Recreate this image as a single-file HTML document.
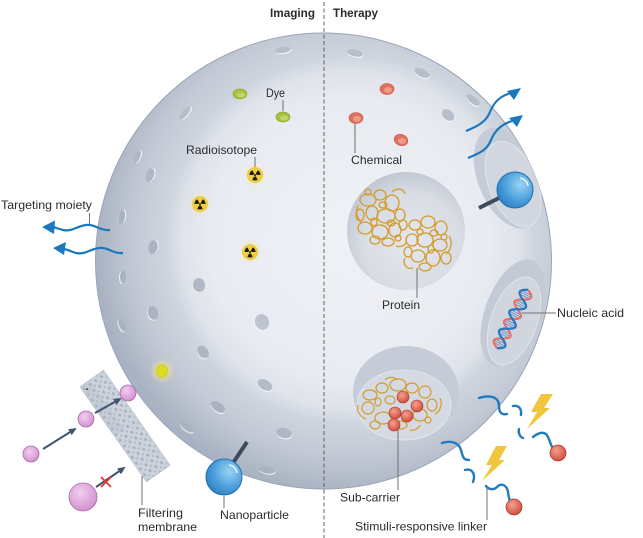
<!DOCTYPE html>
<html><head><meta charset="utf-8"><style>
html,body{margin:0;padding:0;background:#fff;}
svg{display:block;}
text{font-family:"Liberation Sans",sans-serif;font-size:12px;fill:#2b2b2b;}
</style></head><body>
<svg width="643" height="538" viewBox="0 0 643 538" xmlns="http://www.w3.org/2000/svg">
<defs>
  <radialGradient id="sg" gradientUnits="userSpaceOnUse" cx="350" cy="240" r="255">
    <stop offset="0" stop-color="#eff1f6"/>
    <stop offset="0.55" stop-color="#e8ebf1"/>
    <stop offset="0.66" stop-color="#dfe3ea"/>
    <stop offset="0.72" stop-color="#cfd5df"/>
    <stop offset="0.86" stop-color="#c1c8d4"/>
    <stop offset="1" stop-color="#a9b2c2"/>
  </radialGradient>
  <radialGradient id="pg" cx="0.55" cy="0.6" r="0.6">
    <stop offset="0" stop-color="#e4e7ec"/>
    <stop offset="0.7" stop-color="#d8dce3"/>
    <stop offset="1" stop-color="#c2c8d3"/>
  </radialGradient>
  <radialGradient id="bg" cx="0.65" cy="0.35" r="0.75">
    <stop offset="0" stop-color="#9ad3f5"/>
    <stop offset="0.6" stop-color="#4a9edb"/>
    <stop offset="1" stop-color="#2c7cc0"/>
  </radialGradient>
  <radialGradient id="rg" cx="0.4" cy="0.35" r="0.7">
    <stop offset="0" stop-color="#f5a090"/>
    <stop offset="1" stop-color="#cc4a3a"/>
  </radialGradient>
  <radialGradient id="kg" cx="0.4" cy="0.35" r="0.7">
    <stop offset="0" stop-color="#f3cdf0"/>
    <stop offset="1" stop-color="#cf8fcd"/>
  </radialGradient>
  <radialGradient id="yg">
    <stop offset="0" stop-color="#fbe27a" stop-opacity="0.95"/>
    <stop offset="1" stop-color="#fbe88a" stop-opacity="0"/>
  </radialGradient>
  <clipPath id="sc"><circle cx="323.5" cy="261" r="228"/></clipPath>
  <pattern id="dots" width="7" height="7" patternUnits="userSpaceOnUse">
    <ellipse cx="2" cy="2" rx="1.3" ry="1.6" fill="#a5afbf"/>
    <ellipse cx="5.5" cy="5.5" rx="1" ry="1.2" fill="#b0b9c8"/>
  </pattern>
  <marker id="ah" markerWidth="8" markerHeight="7" refX="6" refY="3.5" orient="auto" markerUnits="userSpaceOnUse">
    <path d="M0,0 L8,3.5 L0,7 z" fill="#3f5570"/>
  </marker>
  <g id="rad">
    <circle r="12" fill="url(#yg)"/>
    <circle r="7.5" fill="#f1cf3e" stroke="#e2b82a" stroke-width="0.6"/>
    <path d="M0.8,1.39 L2.75,4.76 A5.5,5.5 0 0 1 -2.75,4.76 L-0.8,1.39 A1.6,1.6 0 0 0 0.8,1.39Z M0.8,-1.39 L2.75,-4.76 A5.5,5.5 0 0 1 5.5,0 L1.6,0 A1.6,1.6 0 0 0 0.8,-1.39Z M-1.6,0 L-5.5,0 A5.5,5.5 0 0 1 -2.75,-4.76 L-0.8,-1.39 A1.6,1.6 0 0 0 -1.6,0Z" fill="#1d1d1d"/>
    <circle r="1" fill="#1d1d1d"/>
  </g>
</defs>

<!-- Sphere -->
<circle cx="323.5" cy="261" r="228" fill="url(#sg)" stroke="#9aa4b5" stroke-width="1"/>

<g clip-path="url(#sc)">
  <!-- top-right dent -->
  <ellipse cx="508" cy="178" rx="30" ry="53" transform="rotate(-22 508 178)" fill="#c5ccd7"/>
  <ellipse cx="513" cy="184" rx="24" ry="45" transform="rotate(-22 513 184)" fill="#d1d6df" stroke="#e6e9ef" stroke-width="0.8"/>
  <!-- nucleic acid dent -->
  <ellipse cx="513" cy="313" rx="28" ry="56" transform="rotate(20 513 313)" fill="#c3cad5"/>
  <ellipse cx="514" cy="321" rx="23" ry="46" transform="rotate(20 514 321)" fill="#d1d6de" stroke="#e6e9ef" stroke-width="0.8"/>
  <!-- sub-carrier dent -->
  <ellipse cx="406" cy="392" rx="53" ry="46" fill="#c6ccd7"/>
  <ellipse cx="404" cy="405" rx="47" ry="35" fill="#d5d9e1" stroke="#e6e9ef" stroke-width="0.8"/>
</g>

<!-- protein compartment -->
<circle cx="406" cy="231" r="59" fill="url(#pg)"/>

<!-- pores -->
<g>
<g transform="translate(283,50) rotate(-8)"><ellipse cx="0.6" cy="1" rx="8" ry="3" fill="#f6f7fa"/><ellipse rx="8" ry="3" fill="#b6bec9"/></g>
<g transform="translate(185,113) rotate(-50)"><ellipse cx="0.6" cy="1" rx="8" ry="3" fill="#f6f7fa"/><ellipse rx="8" ry="3" fill="#b6bec9"/></g>
<g transform="translate(137,157) rotate(-65)"><ellipse cx="0.6" cy="1" rx="7" ry="3" fill="#f6f7fa"/><ellipse rx="7" ry="3" fill="#b0b8c5"/></g>
<g transform="translate(150,175) rotate(-70)"><ellipse cx="0.6" cy="1" rx="7" ry="4" fill="#f6f7fa"/><ellipse rx="7" ry="4" fill="#b0b8c5"/></g>
<g transform="translate(122,217) rotate(-82)"><ellipse cx="0.6" cy="1" rx="7" ry="3" fill="#eef0f4"/><ellipse rx="7" ry="3" fill="#a9b2c0"/></g>
<g transform="translate(153,247) rotate(-80)"><ellipse cx="0.6" cy="1" rx="7" ry="4.5" fill="#eef0f4"/><ellipse rx="7" ry="4.5" fill="#aab3c1"/></g>
<g transform="translate(123,277) rotate(90)"><ellipse cx="0.6" cy="1" rx="6.5" ry="3" fill="#eef0f4"/><ellipse rx="6.5" ry="3" fill="#a9b2c0"/></g>
<g transform="translate(199,285) rotate(80)"><ellipse cx="0.6" cy="1" rx="7" ry="6" fill="#eef0f4"/><ellipse rx="7" ry="6" fill="#b0b8c5"/></g>
<g transform="translate(153,313) rotate(72)"><ellipse cx="0.6" cy="1" rx="7" ry="5" fill="#eef0f4"/><ellipse rx="7" ry="5" fill="#aab3c1"/></g>
<g transform="translate(122,325) rotate(68)"><ellipse cx="0.6" cy="1" rx="7" ry="3" fill="#eef0f4"/><ellipse rx="7" ry="3" fill="#a9b2c0"/></g>
<g transform="translate(262,322) rotate(70)"><ellipse cx="0.6" cy="1" rx="8" ry="7" fill="#f6f7fa"/><ellipse rx="8" ry="7" fill="#bdc4cf"/></g>
<g transform="translate(203,352) rotate(50)"><ellipse cx="0.6" cy="1" rx="7" ry="5" fill="#eef0f4"/><ellipse rx="7" ry="5" fill="#aeb6c3"/></g>
<g transform="translate(265,385) rotate(30)"><ellipse cx="0.6" cy="1" rx="8" ry="5" fill="#f3f5f8"/><ellipse rx="8" ry="5" fill="#b3bbc7"/></g>
<g transform="translate(218,407) rotate(35)"><ellipse cx="0.6" cy="1" rx="8" ry="4.5" fill="#eef0f4"/><ellipse rx="8" ry="4.5" fill="#aab3c1"/></g>
<g transform="translate(187,427) rotate(35)"><ellipse cx="0.6" cy="1" rx="8" ry="3.5" fill="#eef0f4"/><ellipse rx="8" ry="3.5" fill="#a9b2c0"/></g>
<g transform="translate(284,433) rotate(15)"><ellipse cx="0.6" cy="1" rx="8" ry="5" fill="#f3f5f8"/><ellipse rx="8" ry="5" fill="#b0b8c5"/></g>
<g transform="translate(267,470) rotate(10)"><ellipse cx="0.6" cy="1" rx="8" ry="3.5" fill="#eef0f4"/><ellipse rx="8" ry="3.5" fill="#a9b2c0"/></g>
<g transform="translate(355,53) rotate(12)"><ellipse cx="0.6" cy="1" rx="8" ry="3.5" fill="#f6f7fa"/><ellipse rx="8" ry="3.5" fill="#b6bec9"/></g>
<g transform="translate(422,73) rotate(25)"><ellipse cx="0.6" cy="1" rx="8" ry="4" fill="#f6f7fa"/><ellipse rx="8" ry="4" fill="#b6bec9"/></g>
<g transform="translate(473,100) rotate(40)"><ellipse cx="0.6" cy="1" rx="8" ry="3.5" fill="#f6f7fa"/><ellipse rx="8" ry="3.5" fill="#b6bec9"/></g>
<g transform="translate(448,115) rotate(40)"><ellipse cx="0.6" cy="1" rx="7" ry="5" fill="#f6f7fa"/><ellipse rx="7" ry="5" fill="#b6bec9"/></g>
</g>

<!-- dyes -->
<g>
<ellipse cx="240.5" cy="95" rx="7" ry="5" fill="#f2f4e0"/><ellipse cx="240" cy="94" rx="7" ry="5" fill="#a9c044" stroke="#8ea535" stroke-width="0.7"/><ellipse cx="241" cy="95" rx="4" ry="2.5" fill="#c2d468"/>
<ellipse cx="283.5" cy="118" rx="7" ry="5" fill="#f2f4e0"/><ellipse cx="283" cy="117" rx="7" ry="5" fill="#a9c044" stroke="#8ea535" stroke-width="0.7"/><ellipse cx="284" cy="118" rx="4" ry="2.5" fill="#c2d468"/>
</g>
<!-- chemicals -->
<g>
<ellipse cx="387" cy="89" rx="7" ry="5.5" fill="#e0705f" stroke="#c85848" stroke-width="0.6"/><ellipse cx="388" cy="90" rx="4" ry="3" fill="#ef9a88"/>
<ellipse cx="356" cy="118" rx="7" ry="5.5" fill="#e0705f" stroke="#c85848" stroke-width="0.6"/><ellipse cx="357" cy="119" rx="4" ry="3" fill="#ef9a88"/>
<ellipse cx="401" cy="140" rx="7" ry="5.5" transform="rotate(20 401 140)" fill="#e0705f" stroke="#c85848" stroke-width="0.6"/><ellipse cx="402" cy="141" rx="4" ry="3" fill="#ef9a88"/>
</g>

<!-- yellow dot -->
<circle cx="162" cy="371" r="13" fill="url(#yg)"/>
<ellipse cx="162" cy="371" rx="5.5" ry="6.5" fill="#dcdc1e" stroke="#c4c418" stroke-width="0.6"/>

<!-- radioisotopes -->
<use href="#rad" x="255" y="175"/>
<use href="#rad" x="200" y="204"/>
<use href="#rad" x="250" y="252"/>

<!-- protein tangles -->
<g fill="none" stroke="#d39c2c" stroke-width="1.3">
<ellipse cx="368" cy="200" rx="8" ry="6"/><ellipse cx="380" cy="195" rx="6" ry="5"/><ellipse cx="392" cy="203" rx="7" ry="8"/>
<ellipse cx="372" cy="213" rx="6" ry="7"/><ellipse cx="386" cy="216" rx="9" ry="7"/><ellipse cx="400" cy="215" rx="5" ry="6"/>
<ellipse cx="365" cy="228" rx="7" ry="6"/><ellipse cx="380" cy="232" rx="8" ry="7"/><ellipse cx="395" cy="230" rx="6" ry="7"/>
<ellipse cx="388" cy="242" rx="6" ry="4"/><ellipse cx="403" cy="225" rx="4" ry="5"/><ellipse cx="375" cy="240" rx="5" ry="4"/>
<ellipse cx="360" cy="215" rx="4" ry="6"/><ellipse cx="383" cy="205" rx="4" ry="3"/>
<ellipse cx="374" cy="222" rx="3" ry="4"/><ellipse cx="391" cy="223" rx="4" ry="3"/><ellipse cx="368" cy="192" rx="3" ry="3"/><ellipse cx="398" cy="238" rx="3" ry="3"/>
<path d="M392,192 c6,-5 12,-3 13,2 M358,205 c-3,6 -1,14 4,18 M396,246 c6,2 12,-2 10,-8"/>
<ellipse cx="415" cy="225" rx="6" ry="5"/><ellipse cx="428" cy="222" rx="7" ry="6"/><ellipse cx="441" cy="228" rx="6" ry="7"/>
<ellipse cx="412" cy="240" rx="6" ry="6"/><ellipse cx="425" cy="240" rx="8" ry="7"/><ellipse cx="440" cy="245" rx="7" ry="6"/>
<ellipse cx="418" cy="256" rx="7" ry="6"/><ellipse cx="433" cy="258" rx="7" ry="8"/><ellipse cx="446" cy="258" rx="5" ry="6"/>
<ellipse cx="425" cy="267" rx="6" ry="4"/><ellipse cx="408" cy="252" rx="4" ry="5"/><ellipse cx="434" cy="233" rx="4" ry="3"/>
<ellipse cx="420" cy="232" rx="3" ry="3"/><ellipse cx="431" cy="249" rx="3" ry="4"/><ellipse cx="444" cy="237" rx="3" ry="3"/>
<path d="M405,258 c-3,6 2,12 8,10 M449,236 c4,6 2,14 -3,18"/>
</g>

<!-- sub-carrier tangle -->
<g fill="none" stroke="#d39c2c" stroke-width="1.2">
<ellipse cx="370" cy="395" rx="7" ry="5"/><ellipse cx="382" cy="388" rx="6" ry="5"/><ellipse cx="398" cy="385" rx="8" ry="6"/>
<ellipse cx="412" cy="388" rx="6" ry="5"/><ellipse cx="425" cy="392" rx="6" ry="6"/><ellipse cx="368" cy="408" rx="6" ry="6"/>
<ellipse cx="383" cy="418" rx="8" ry="6"/><ellipse cx="420" cy="415" rx="7" ry="6"/><ellipse cx="432" cy="405" rx="5" ry="6"/>
<ellipse cx="400" cy="425" rx="7" ry="4"/><ellipse cx="375" cy="425" rx="5" ry="4"/><ellipse cx="390" cy="400" rx="5" ry="4"/>
<ellipse cx="378" cy="402" rx="3" ry="4"/><ellipse cx="428" cy="420" rx="3" ry="3"/>
<path d="M358,405 c-2,6 2,12 8,14 M440,398 c3,6 0,14 -5,16 M385,380 c4,-4 10,-3 12,0 M410,430 c5,1 9,-2 10,-5"/>
</g>
<g stroke="#a83828" stroke-width="0.6" fill="url(#rg)">
<circle cx="403" cy="397" r="6"/>
<circle cx="417" cy="406" r="6"/>
<circle cx="395" cy="413" r="6"/>
<circle cx="407" cy="416" r="6"/>
<circle cx="394" cy="425" r="6"/>
</g>

<!-- DNA -->
<g transform="translate(512.5,319) rotate(28)" fill="none">
<g stroke="#6f8fc0" stroke-width="0.9">
<line x1="-5" y1="-29.5" x2="5" y2="-29.5"/><line x1="-6" y1="-27.5" x2="6" y2="-27.5"/><line x1="-5" y1="-25.5" x2="5" y2="-25.5"/>
<line x1="-5" y1="-18.5" x2="5" y2="-18.5"/><line x1="-6" y1="-16.5" x2="6" y2="-16.5"/><line x1="-5" y1="-14.5" x2="5" y2="-14.5"/>
<line x1="-5" y1="-7.5" x2="5" y2="-7.5"/><line x1="-6" y1="-5.5" x2="6" y2="-5.5"/><line x1="-5" y1="-3.5" x2="5" y2="-3.5"/>
<line x1="-5" y1="3.5" x2="5" y2="3.5"/><line x1="-6" y1="5.5" x2="6" y2="5.5"/><line x1="-5" y1="7.5" x2="5" y2="7.5"/>
<line x1="-5" y1="14.5" x2="5" y2="14.5"/><line x1="-6" y1="16.5" x2="6" y2="16.5"/><line x1="-5" y1="18.5" x2="5" y2="18.5"/>
<line x1="-5" y1="25.5" x2="5" y2="25.5"/><line x1="-6" y1="27.5" x2="6" y2="27.5"/><line x1="-5" y1="29.5" x2="5" y2="29.5"/>
</g>
<path d="M0,-33 C8.5,-29 8.5,-26 0,-22 C-8.5,-18 -8.5,-15 0,-11 C8.5,-7 8.5,-4 0,0 C-8.5,4 -8.5,7 0,11 C8.5,15 8.5,18 0,22 C-8.5,26 -8.5,29 0,33" stroke="#e8706a" stroke-width="2.3"/>
<path d="M0,-33 C-8.5,-29 -8.5,-26 0,-22 C8.5,-18 8.5,-15 0,-11 C-8.5,-7 -8.5,-4 0,0 C8.5,4 8.5,7 0,11 C-8.5,15 -8.5,18 0,22 C8.5,26 8.5,29 0,33" stroke="#2a78c0" stroke-width="2.3"/>
</g>

<!-- top-right nanoparticle -->
<line x1="479" y1="208" x2="499" y2="198" stroke="#3d4a5c" stroke-width="4"/>
<circle cx="515" cy="190" r="18" fill="url(#bg)" stroke="#1f6fae" stroke-width="1"/>
<path d="M520,178 a9,9 0 0 1 8,8" stroke="#ffffff" stroke-width="1.6" fill="none" opacity="0.85"/>

<!-- bottom nanoparticle -->
<line x1="233" y1="463" x2="247" y2="442" stroke="#3d4a5c" stroke-width="4"/>
<circle cx="224" cy="477" r="18" fill="url(#bg)" stroke="#1f6fae" stroke-width="1"/>
<path d="M229,465 a9,9 0 0 1 8,8" stroke="#ffffff" stroke-width="1.6" fill="none" opacity="0.85"/>

<!-- top-right arrows -->
<g fill="none" stroke="#1a78bd" stroke-width="2.2">
<path d="M466,131 C478,126 486,122 490,112 C494,102 500,96 511,93"/>
<path d="M468,158 C480,153 487,150 491,140 C495,130 502,124 512,121"/>
</g>
<g fill="#1a78bd">
<path d="M521,88 L507,91 L514,100 Z"/>
<path d="M523,115 L509,118 L517,127 Z"/>
</g>

<!-- left targeting arrows -->
<g fill="none" stroke="#1a78bd" stroke-width="2.2">
<path d="M110,230 C100,231 95,224 86,225 C77,226 72,232 63,230 C59,229 57,228 53,227"/>
<path d="M123,253 C113,254 108,247 99,248 C90,249 85,255 76,253 C72,252 69,250 64,249"/>
</g>
<g fill="#1a78bd">
<path d="M42,227 L55,220.5 L54,234 Z"/>
<path d="M53,248 L66,242 L64,255 Z"/>
</g>

<!-- stimuli-responsive linkers -->
<g fill="none" stroke="#1f7cc0" stroke-width="2.4" stroke-linecap="round">
<path d="M479,398 C492,394 499,398 499,406 C499,413 502,415 507,414"/>
<path d="M513,406 C518,405 522,408 521,415"/>
<path d="M519,429 C518,433 520,437 523,438"/>
<path d="M533,437 C538,433 545,430 548,437 C551,444 552,449 556,452"/>
<path d="M442,443 C452,440 459,443 461,450 C463,457 463,460 469,460"/>
<path d="M465,470 C472,468 476,474 473,482"/>
<path d="M486,486 C489,490 494,490 497,487 C502,482 507,486 508,492 C509,499 510,503 513,505"/>
</g>
<g fill="#f0c63c">
<path d="M541,394 L553,394 L544,408 L550,408 L527,429 L537,412 L531,412 Z"/>
<path d="M496,446 L507,446 L499,460 L505,460 L482,481 L492,465 L486,465 Z"/>
</g>
<g stroke="#a83828" stroke-width="0.7" fill="url(#rg)">
<circle cx="558" cy="453" r="8"/>
<circle cx="514" cy="507" r="8"/>
</g>

<!-- filtering membrane -->
<g transform="translate(125,426) rotate(-35)">
<rect x="-14.5" y="-58" width="29" height="116" fill="#cdd3dd" stroke="#b5bdca" stroke-width="0.6"/>
<rect x="-14.5" y="-58" width="29" height="116" fill="url(#dots)"/>
<rect x="-14.5" y="-58" width="12" height="60" fill="#b5bdca" opacity="0.35"/>
<circle cx="-10" cy="-52" r="0.9" fill="#222"/>
</g>

<!-- pink particles and arrows -->
<g stroke="#3f5570" stroke-width="2" fill="none">
<line x1="43" y1="449" x2="75" y2="429" marker-end="url(#ah)"/>
<line x1="95" y1="413" x2="120" y2="399" marker-end="url(#ah)"/>
<line x1="96" y1="487" x2="124" y2="468" marker-end="url(#ah)"/>
</g>
<g stroke="#e03a30" stroke-width="1.8">
<line x1="101" y1="477" x2="111" y2="487"/>
<line x1="101" y1="487" x2="111" y2="477"/>
</g>
<g stroke="#a868a8" stroke-width="0.8" fill="url(#kg)">
<circle cx="128" cy="393" r="8"/>
<circle cx="86" cy="419" r="8"/>
<circle cx="31" cy="454" r="8"/>
<circle cx="83" cy="497" r="14"/>
</g>

<!-- dashed divider -->
<line x1="324" y1="2" x2="324" y2="538" stroke="#555" stroke-width="0.9" stroke-dasharray="4,2.5"/>

<!-- leader lines -->
<g stroke="#707070" stroke-width="1">
<line x1="283" y1="100" x2="283" y2="111"/>
<line x1="255" y1="157" x2="255" y2="167"/>
<line x1="89.5" y1="213" x2="89.5" y2="224"/>
<line x1="355" y1="123" x2="355" y2="153"/>
<line x1="417" y1="268" x2="417" y2="298"/>
<line x1="522" y1="313" x2="556" y2="313"/>
<line x1="398" y1="427" x2="398" y2="490"/>
<line x1="487" y1="487" x2="487" y2="520"/>
<line x1="142" y1="476" x2="142" y2="505"/>
<line x1="224" y1="496" x2="224" y2="508"/>
</g>

<!-- labels -->
<text x="270" y="17" font-weight="bold" textLength="45" lengthAdjust="spacingAndGlyphs">Imaging</text>
<text x="333" y="17" font-weight="bold" textLength="45" lengthAdjust="spacingAndGlyphs">Therapy</text>
<text x="266" y="97" textLength="19" lengthAdjust="spacingAndGlyphs">Dye</text>
<text x="186" y="154" textLength="71" lengthAdjust="spacingAndGlyphs">Radioisotope</text>
<text x="1" y="209" textLength="91" lengthAdjust="spacingAndGlyphs">Targeting moiety</text>
<text x="351" y="164" textLength="51" lengthAdjust="spacingAndGlyphs">Chemical</text>
<text x="382" y="309" textLength="38" lengthAdjust="spacingAndGlyphs">Protein</text>
<text x="557" y="317" textLength="67" lengthAdjust="spacingAndGlyphs">Nucleic acid</text>
<text x="340" y="501.5" textLength="60" lengthAdjust="spacingAndGlyphs">Sub-carrier</text>
<text x="355" y="530.5" textLength="132" lengthAdjust="spacingAndGlyphs">Stimuli-responsive linker</text>
<text x="138" y="517" textLength="45" lengthAdjust="spacingAndGlyphs">Filtering</text>
<text x="138" y="531" textLength="59" lengthAdjust="spacingAndGlyphs">membrane</text>
<text x="220" y="519" textLength="69" lengthAdjust="spacingAndGlyphs">Nanoparticle</text>
</svg>
</body></html>
